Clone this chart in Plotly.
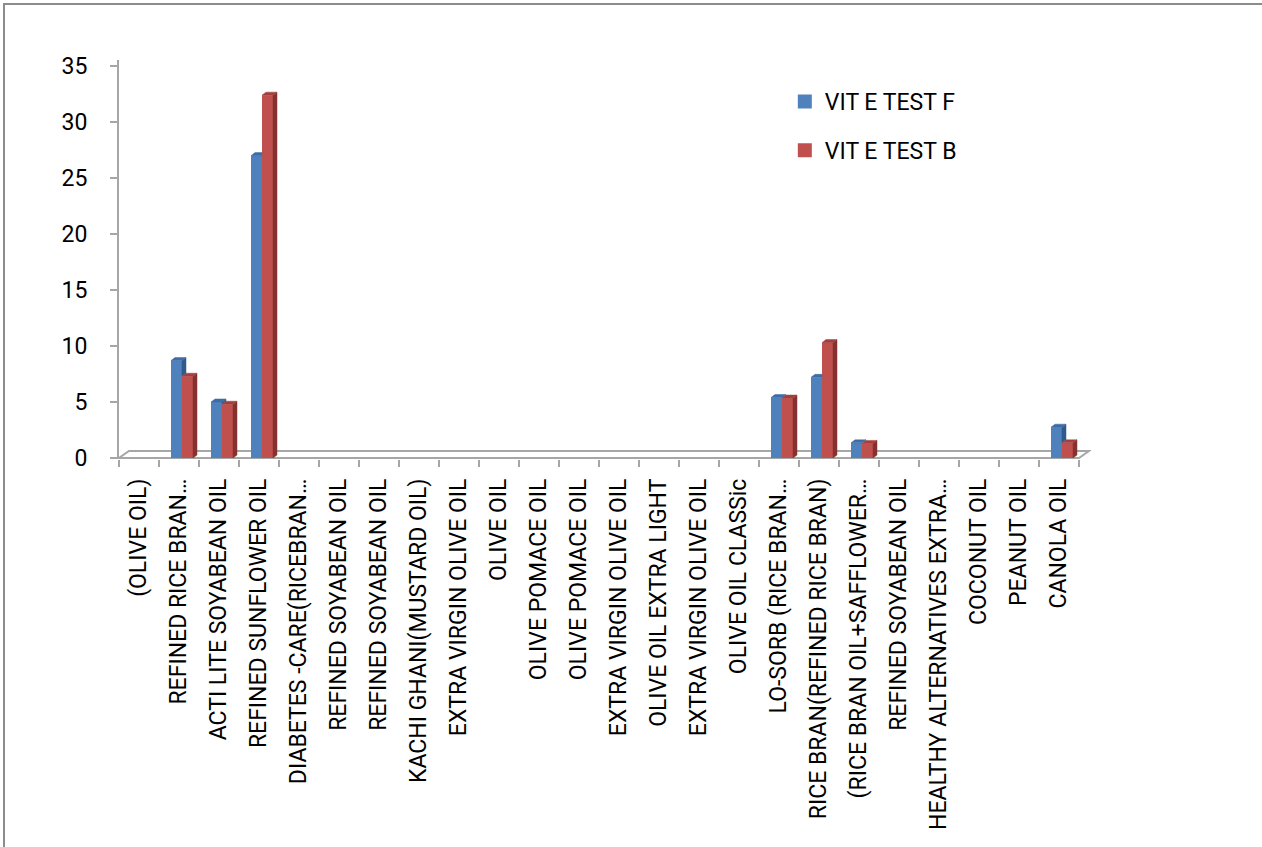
import plotly.graph_objects as go

# Oil samples on the category axis
categories = [
    "(OLIVE OIL)",
    "REFINED RICE BRAN…",
    "ACTI LITE SOYABEAN OIL",
    "REFINED SUNFLOWER OIL",
    "DIABETES -CARE(RICEBRAN…",
    "REFINED SOYABEAN OIL",
    "REFINED SOYABEAN OIL",
    "KACHI GHANI(MUSTARD OIL)",
    "EXTRA VIRGIN OLIVE OIL",
    "OLIVE OIL",
    "OLIVE POMACE OIL",
    "OLIVE POMACE OIL",
    "EXTRA VIRGIN OLIVE OIL",
    "OLIVE OIL EXTRA LIGHT",
    "EXTRA VIRGIN OLIVE OIL",
    "OLIVE OIL CLASSic",
    "LO-SORB (RICE BRAN…",
    "RICE BRAN(REFINED RICE BRAN)",
    "(RICE BRAN OIL+SAFFLOWER…",
    "REFINED SOYABEAN OIL",
    "HEALTHY ALTERNATIVES EXTRA…",
    "COCONUT OIL",
    "PEANUT OIL",
    "CANOLA OIL",
]

# Vitamin E results per sample
vit_e_test_f = [0, 8.7, 5.0, 27.0, 0, 0, 0, 0, 0, 0, 0, 0,
                0, 0, 0, 0, 5.4, 7.2, 1.35, 0, 0, 0, 0, 2.75]
vit_e_test_b = [0, 7.3, 4.8, 32.4, 0, 0, 0, 0, 0, 0, 0, 0,
                0, 0, 0, 0, 5.35, 10.3, 1.3, 0, 0, 0, 0, 1.35]

y_ticks = [0, 5, 10, 15, 20, 25, 30, 35]

FONT = "Roboto"
FS = 23
W, H = 1262, 847
ML, MR, MT, MB = 119, 171, 60, 388
X_RANGE = [-0.5, 23.8]
Y_RANGE = [-0.09, 35.54]

BAR_W = 0.275
OFFS = [-0.0625, 0.2125]          # centre offsets of the two series in a group
SIDE_DX, SIDE_DY = 0.1, 0.27      # pseudo-3D depth of each column
FLOOR_DX, FLOOR_DY = 0.25, 0.625  # depth of the floor slab

COLORS = {
    "front": ["#4F81BD", "#C0504D"],
    "side": ["#2F5A8C", "#843230"],
    "top": ["#3D6CA6", "#A33F3C"],
}
names = ["VIT E TEST F", "VIT E TEST B"]
values = [vit_e_test_f, vit_e_test_b]

idx = list(range(len(categories)))
n = len(categories)
fig = go.Figure()

# front faces of the columns
for k in range(2):
    fig.add_trace(go.Bar(
        x=[i + OFFS[k] for i in idx], y=values[k], width=BAR_W, name=names[k],
        marker=dict(color=COLORS["front"][k], line=dict(width=0)),
        showlegend=False,
    ))

# side and top faces; the left column's faces are trimmed where the
# right column stands in front of them
side_x = [[], []]
side_y = [[], []]
top_x = [[], []]
top_y = [[], []]
for i in idx:
    fv, bv = vit_e_test_f[i], vit_e_test_b[i]
    # left series (F)
    if fv:
        x0 = i + OFFS[0] - BAR_W / 2
        x1 = i + OFFS[0] + BAR_W / 2
        if fv > bv:
            side_x[0] += [x1, x1 + SIDE_DX, x1 + SIDE_DX, x1, x1, None]
            side_y[0] += [bv, bv + SIDE_DY, fv + SIDE_DY, fv, bv, None]
            xr = x1 + SIDE_DX
        else:
            xr = x1
        top_x[0] += [x0, x0 + SIDE_DX, xr, x1, x0, None]
        top_y[0] += [fv, fv + SIDE_DY, fv + SIDE_DY, fv, fv, None]
    # right series (B)
    if bv:
        x0 = i + OFFS[1] - BAR_W / 2
        x1 = i + OFFS[1] + BAR_W / 2
        side_x[1] += [x1, x1 + SIDE_DX, x1 + SIDE_DX, x1, x1, None]
        side_y[1] += [0, SIDE_DY, bv + SIDE_DY, bv, 0, None]
        top_x[1] += [x0, x0 + SIDE_DX, x1 + SIDE_DX, x1, x0, None]
        top_y[1] += [bv, bv + SIDE_DY, bv + SIDE_DY, bv, bv, None]

for k in range(2):
    for fx, fy, col in ((side_x[k], side_y[k], COLORS["side"][k]),
                        (top_x[k], top_y[k], COLORS["top"][k])):
        fig.add_trace(go.Scatter(
            x=fx, y=fy, mode="lines", fill="toself", fillcolor=col,
            line=dict(color=col, width=0.5), hoverinfo="skip", showlegend=False,
        ))

# legend swatches
for k in range(2):
    fig.add_trace(go.Scatter(
        x=[None], y=[None], mode="markers", name=names[k],
        marker=dict(symbol="square", size=14, color=COLORS["front"][k]),
        legendgroup=names[k],
    ))

# tick marks on category boundaries
fig.add_trace(go.Scatter(
    x=[i - 0.5 for i in range(n + 1)], y=[0] * (n + 1), xaxis="x2",
    mode="markers", marker=dict(opacity=0), hoverinfo="skip", showlegend=False,
))

# floor of the 3D plot, drawn beneath the columns
fx0, fx1 = -0.5, n - 0.5
floor_path = (f"M{fx0},0 L{fx1},0 L{fx1 + FLOOR_DX},{FLOOR_DY} "
              f"L{fx0 + FLOOR_DX},{FLOOR_DY} Z")
fig.add_shape(type="path", path=floor_path, xref="x", yref="y",
              line=dict(color="#A6A6A6", width=2), fillcolor="rgba(0,0,0,0)",
              layer="below")

fig.update_layout(
    width=W, height=H,
    margin=dict(l=ML, r=MR, t=MT, b=MB, autoexpand=False),
    paper_bgcolor="white", plot_bgcolor="rgba(0,0,0,0)",
    barmode="overlay",
    font=dict(family=FONT, size=FS, color="black"),
    xaxis=dict(
        range=X_RANGE, tickmode="array", tickvals=idx, ticktext=categories,
        tickangle=-90, ticks="", showgrid=False, zeroline=False,
        showline=False, ticklabelstandoff=14, automargin=False,
        tickfont=dict(family=FONT, size=FS, color="black"),
    ),
    xaxis2=dict(
        range=X_RANGE, overlaying="x", anchor="y", automargin=False,
        tickmode="array", tickvals=[i - 0.5 for i in range(n + 1)],
        ticks="outside", ticklen=7, tickwidth=2, tickcolor="#A6A6A6",
        showticklabels=False, showgrid=False, zeroline=False, showline=False,
    ),
    yaxis=dict(
        range=Y_RANGE, tickmode="array", tickvals=y_ticks,
        ticks="outside", ticklen=7, tickwidth=2, tickcolor="#A6A6A6",
        showline=True, linecolor="#A6A6A6", linewidth=2, automargin=False,
        showgrid=False, zeroline=False, ticklabelstandoff=18,
        tickfont=dict(family=FONT, size=FS, color="black"),
    ),
    legend=dict(
        x=0.685, y=0.95, xanchor="left", yanchor="top",
        bgcolor="rgba(0,0,0,0)", tracegroupgap=16, itemwidth=30,
        font=dict(family=FONT, size=FS, color="black"),
    ),
    showlegend=True,
)

# outer chart border
pw = W - ML - MR
ph = H - MT - MB
fig.add_shape(
    type="rect", xref="paper", yref="paper",
    x0=(4 - ML) / pw, x1=(W + 10 - ML) / pw,
    y0=(H - MB - (H + 10)) / ph, y1=(H - MB - 4) / ph,
    line=dict(color="#8C8C8C", width=2), fillcolor="rgba(0,0,0,0)", layer="below",
)

fig.write_html("out.html")
